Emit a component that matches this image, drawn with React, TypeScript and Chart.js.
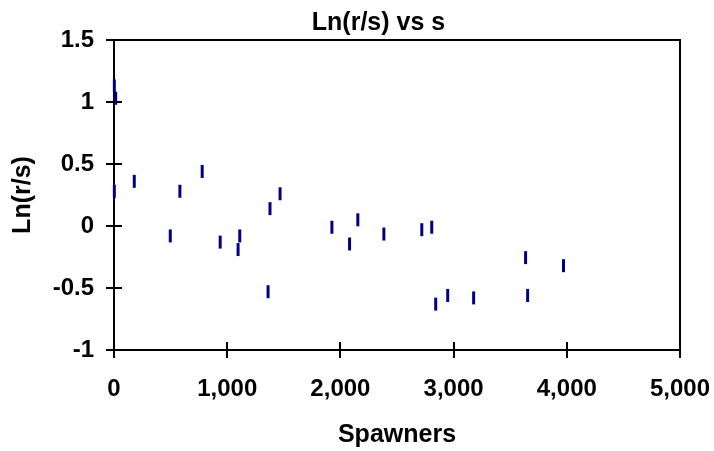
import React, { useEffect, useRef } from 'react';
import { Chart, registerables } from 'chart.js';

Chart.register(...registerables);

// ---- data ----
const spawners = [3, 15, 3, 179, 497, 582, 779, 938, 1096, 1111, 1361, 1378, 1467, 1925, 2081, 2154, 2384, 2719, 2807, 2842, 2948, 3177, 3636, 3654, 3971];
const lnRS = [1.13, 1.03, 0.28, 0.36, -0.08, 0.28, 0.44, -0.13, -0.19, -0.08, -0.53, 0.14, 0.26, -0.01, -0.145, 0.05, -0.065, -0.03, -0.01, -0.63, -0.56, -0.58, -0.255, -0.56, -0.32];
const xTickValues = [0, 1000, 2000, 3000, 4000, 5000];
const yTickValues = [-1, -0.5, 0, 0.5, 1, 1.5];
const chartTitle = 'Ln(r/s) vs s';
const xTitle = 'Spawners';
const yTitle = 'Ln(r/s)';

const FONT = "'Liberation Sans', Arial, Helvetica, sans-serif";

const frameAndInnerTicks = {
  id: 'frameAndInnerTicks',
  afterLayout(chart: any) {
    // centre the title block like the reference
    if (chart.titleBlock) {
      chart.titleBlock.left = 43;
      chart.titleBlock.right = 714;
    }
  },
  beforeDatasetsDraw(chart: any) {
    const { ctx, chartArea } = chart;
    const { left, right, top, bottom } = chartArea;
    ctx.save();
    ctx.strokeStyle = '#000';
    ctx.lineWidth = 2;
    ctx.beginPath();
    ctx.moveTo(left, top);
    ctx.lineTo(right, top);
    ctx.lineTo(right, bottom);
    ctx.stroke();
    const xs = chart.scales.x;
    const ys = chart.scales.y;
    ctx.beginPath();
    xTickValues.forEach((v) => {
      const px = Math.round(xs.getPixelForValue(v));
      ctx.moveTo(px, bottom);
      ctx.lineTo(px, bottom - 8);
    });
    yTickValues.forEach((v) => {
      const py = Math.round(ys.getPixelForValue(v));
      ctx.moveTo(left, py);
      ctx.lineTo(left + 8, py);
    });
    ctx.stroke();
    ctx.restore();
  },
};

export default function App() {
  const canvasRef = useRef<HTMLCanvasElement | null>(null);

  useEffect(() => {
    document.body.style.margin = '0';
    const canvas = canvasRef.current;
    if (!canvas) return;
    const chart = new Chart(canvas, {
      type: 'scatter',
      data: {
        datasets: [
          {
            data: spawners.map((x, i) => ({ x, y: lnRS[i] })),
            pointStyle: 'line',
            rotation: 90,
            radius: 6.5,
            hoverRadius: 6.5,
            borderWidth: 3,
            borderColor: '#000080',
            backgroundColor: '#000080',
            clip: false,
          } as any,
        ],
      },
      options: {
        animation: false,
        responsive: false,
        devicePixelRatio: 1,
        layout: { padding: { left: 0, right: 34, top: 0, bottom: 0 } },
        plugins: {
          legend: { display: false },
          tooltip: { enabled: false },
          title: {
            display: true,
            text: chartTitle,
            color: '#000',
            font: { family: FONT, size: 25, weight: 'bold', lineHeight: 1.2 },
            padding: { top: 8.3, bottom: 1.7 },
          },
        },
        scales: {
          x: {
            type: 'linear',
            min: 0,
            max: 5000,
            afterBuildTicks: (s: any) => {
              s.ticks = xTickValues.map((v) => ({ value: v }));
            },
            afterFit: (s: any) => {
              s.height = 101;
              s.paddingLeft = 0;
              s.paddingRight = 0;
            },
            ticks: {
              color: '#000',
              font: { family: FONT, size: 24, weight: 'bold' },
              padding: 17,
              maxRotation: 0,
              callback: (v: any) => Number(v).toLocaleString('en-US'),
            },
            grid: { drawOnChartArea: false, drawTicks: true, tickLength: 8, color: '#000', lineWidth: 2 },
            border: { display: true, color: '#000', width: 2 },
            title: {
              display: true,
              text: xTitle,
              color: '#000',
              font: { family: FONT, size: 25, weight: 'bold', lineHeight: 1.2 },
              padding: { top: 0, bottom: 1 },
            },
          },
          y: {
            type: 'linear',
            min: -1,
            max: 1.5,
            afterBuildTicks: (s: any) => {
              s.ticks = yTickValues.map((v) => ({ value: v }));
            },
            afterFit: (s: any) => {
              s.width = 114;
            },
            ticks: {
              color: '#000',
              font: { family: FONT, size: 24, weight: 'bold' },
              padding: 12,
              callback: (v: any) => String(v),
            },
            grid: { drawOnChartArea: false, drawTicks: true, tickLength: 8, color: '#000', lineWidth: 2 },
            border: { display: true, color: '#000', width: 2 },
            title: {
              display: true,
              text: yTitle,
              color: '#000',
              font: { family: FONT, size: 25, weight: 'bold', lineHeight: 1.2 },
              padding: { top: 8, bottom: 0 },
            },
          },
        },
      },
      plugins: [frameAndInnerTicks],
    });
    return () => chart.destroy();
  }, []);

  return (
    <canvas
      ref={canvasRef}
      width={714}
      height={451}
      style={{ display: 'block', width: 714, height: 451 }}
    />
  );
}
